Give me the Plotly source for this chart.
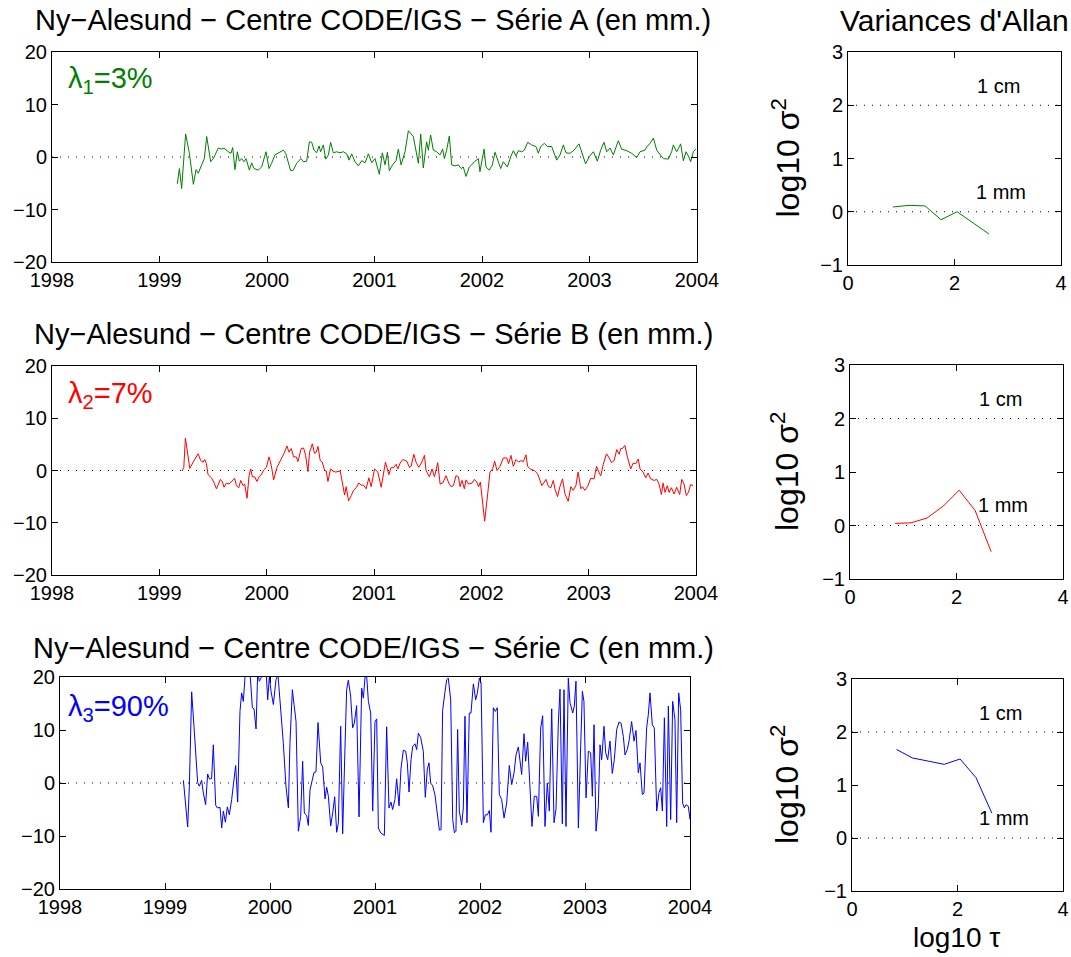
import plotly.graph_objects as go

# ---------------- data ----------------
A_time = [
    1999.166, 1999.185, 1999.206, 1999.243, 1999.278, 1999.315, 1999.340, 1999.361, 1999.392, 1999.417,
    1999.439, 1999.454, 1999.476, 1999.501, 1999.547, 1999.578, 1999.600, 1999.640, 1999.665, 1999.681,
    1999.702, 1999.724, 1999.743, 1999.764, 1999.786, 1999.805, 1999.836, 1999.857, 1999.879, 1999.919,
    1999.950, 1999.991, 2000.019, 2000.043, 2000.074, 2000.152, 2000.174, 2000.220, 2000.245, 2000.276,
    2000.316, 2000.338, 2000.369, 2000.394, 2000.416, 2000.437, 2000.462, 2000.484, 2000.499, 2000.524,
    2000.546, 2000.571, 2000.592, 2000.617, 2000.648, 2000.679, 2000.710, 2000.741, 2000.763, 2000.788,
    2000.819, 2000.850, 2000.881, 2000.912, 2000.943, 2000.974, 2001.005, 2001.045, 2001.073, 2001.098,
    2001.120, 2001.138, 2001.169, 2001.200, 2001.222, 2001.247, 2001.284, 2001.315, 2001.337, 2001.361,
    2001.408, 2001.430, 2001.454, 2001.485, 2001.501, 2001.522, 2001.547, 2001.578, 2001.609, 2001.634,
    2001.650, 2001.671, 2001.696,
    2001.718, 2001.749, 2001.780, 2001.805, 2001.826, 2001.851, 2001.882, 2001.904, 2001.929, 2001.966,
    2001.981, 2002.019, 2002.037, 2002.068, 2002.096, 2002.121, 2002.146, 2002.174, 2002.198, 2002.236,
    2002.270, 2002.292, 2002.316, 2002.338, 2002.369, 2002.394, 2002.425, 2002.462, 2002.502, 2002.524,
    2002.546, 2002.580, 2002.608, 2002.648, 2002.695, 2002.726, 2002.757, 2002.781, 2002.819, 2002.856,
    2002.902, 2002.936, 2002.964, 2002.999, 2003.036, 2003.073, 2003.104, 2003.135, 2003.160, 2003.191,
    2003.222, 2003.268, 2003.299, 2003.346, 2003.392, 2003.439, 2003.470, 2003.516, 2003.532, 2003.563,
    2003.594, 2003.625, 2003.656, 2003.687, 2003.733, 2003.764, 2003.780, 2003.811, 2003.848, 2003.873,
    2003.898, 2003.920, 2003.941, 2003.966, 2003.988,
]
A_mm = [
    -5.1, -2.2, -6.0, 4.4, 0.7, -5.2, -2.4, -3.1, -1.5, -0.3,
    3.9, 2.0, -0.9, -0.3, 1.7, 1.5, 1.7, 1.0, 0.7, 1.8,
    -2.4, 1.0, -0.8, -0.3, -0.9, -0.3, -2.5, -1.1, -2.2, -2.5,
    -1.9, 1.0, -2.2, -1.2, 0.4, 1.3, 0.7, -2.6, -2.5, -1.2,
    -0.3, -0.9, -0.8, 2.9, 2.8, 1.3, 0.8, 2.1, 1.0, 2.3,
    -0.4, 0.4, 2.8, 0.8, 1.0, 0.8, 1.0, 0.6, -0.6, 0.6,
    -0.9, -1.7, -0.7, -1.1, 0.6, -1.1, -0.3, -3.3, 0.8, -1.5,
    0.9, -2.6, -1.5, -0.7, 1.5, -1.5, 1.0, 5.0, 4.4, 3.9,
    -1.2, 4.4, -2.1, 2.9, 1.3, 4.2, 1.3, 1.0, 0.4, 1.5,
    -0.3, 1.3, 4.0,
    -1.5, -1.7, -1.5, -2.2, -1.9, -3.7, -1.9, -1.5, -0.9, -0.3,
    -2.8, 1.5, -1.9, -2.5, -1.5, 0.9, -0.6, -2.2, -0.9, -1.9,
    0.2, 1.2, 0.2, 1.2, 1.0, 1.3, 2.8, 2.3, 2.0, 0.7,
    2.0, 2.6, 2.0, 2.0, -0.6, 0.4, 2.3, 0.8, 0.7, 1.3,
    2.5, 0.4, -1.3, 0.1, 1.0, -0.8, 1.3, 2.8, 1.0, 1.7,
    0.4, 3.1, 1.5, 1.2, 0.7, -0.1, 1.0, 1.3, 1.9, 2.6,
    3.6, 1.3, 0.4, -0.3, -0.4, 1.0, 2.3, 1.0, 2.5, -0.7,
    1.0, 0.2, -0.9, 1.0, 1.5,
]

B_time = [
    1999.212, 1999.228, 1999.243, 1999.259, 1999.284, 1999.315, 1999.361, 1999.386, 1999.408, 1999.423,
    1999.439, 1999.454, 1999.485, 1999.507, 1999.532, 1999.569, 1999.588, 1999.603, 1999.625, 1999.650,
    1999.674, 1999.702, 1999.718, 1999.740, 1999.758, 1999.780, 1999.795, 1999.817, 1999.836, 1999.851,
    1999.867, 1999.888, 1999.910, 1999.929, 1999.950, 1999.972, 1999.997, 2000.022, 2000.043, 2000.065,
    2000.096, 2000.136, 2000.167, 2000.189, 2000.208, 2000.229, 2000.251, 2000.276, 2000.291, 2000.322,
    2000.344, 2000.363, 2000.384, 2000.400, 2000.425, 2000.446, 2000.462, 2000.478, 2000.499, 2000.518,
    2000.540, 2000.555, 2000.571, 2000.595, 2000.617, 2000.642, 2000.664, 2000.685, 2000.704, 2000.726,
    2000.741, 2000.763, 2000.788, 2000.809, 2000.834, 2000.859, 2000.881, 2000.902, 2000.927, 2000.952,
    2000.974, 2001.005, 2001.036, 2001.067, 2001.107, 2001.138, 2001.160, 2001.181, 2001.206, 2001.222,
    2001.243, 2001.268, 2001.305, 2001.330, 2001.346, 2001.371, 2001.392, 2001.417, 2001.445, 2001.470,
    2001.485, 2001.516, 2001.541, 2001.563, 2001.594, 2001.616, 2001.640, 2001.671,
    2001.696, 2001.718, 2001.740, 2001.764, 2001.786, 2001.802, 2001.820, 2001.842, 2001.857, 2001.882,
    2001.913, 2001.935, 2001.957, 2001.975, 2001.991, 2002.012, 2002.031, 2002.059, 2002.081, 2002.105,
    2002.124, 2002.146, 2002.174, 2002.205, 2002.236, 2002.254, 2002.276, 2002.298, 2002.323, 2002.347,
    2002.369, 2002.391, 2002.416, 2002.431, 2002.462, 2002.493, 2002.524, 2002.564, 2002.602, 2002.626,
    2002.648, 2002.670, 2002.688, 2002.710, 2002.732, 2002.757, 2002.778, 2002.809, 2002.834, 2002.856,
    2002.881, 2002.902, 2002.927, 2002.943, 2002.964, 2002.989, 2003.020, 2003.051, 2003.073, 2003.098,
    2003.113, 2003.135, 2003.166, 2003.191, 2003.213, 2003.237, 2003.262, 2003.284, 2003.299, 2003.315,
    2003.337, 2003.361, 2003.392, 2003.414, 2003.439, 2003.461, 2003.479, 2003.507, 2003.532, 2003.554,
    2003.578, 2003.609, 2003.634, 2003.656, 2003.678, 2003.693, 2003.712, 2003.733, 2003.749, 2003.771,
    2003.796, 2003.820, 2003.848, 2003.867, 2003.889, 2003.910, 2003.929, 2003.950, 2003.972,
]
B_mm = [
    -0.1, 0.6, 6.2, 3.5, 0.4, 1.6, 3.2, 1.9, 1.6, 2.1,
    1.3, -0.8, -1.4, -2.2, -3.5, -1.7, -2.2, -3.2, -2.4, -2.6,
    -2.1, -1.5, -2.9, -3.3, -1.9, -2.9, -2.6, -5.3, -1.0, 0.3,
    -1.2, -1.2, -2.1, -1.2, -0.8, 0.1, 0.6, 2.6, 1.0, -1.8,
    0.6, 2.2, 3.5, 4.7, 3.5, 4.2, 2.6, 2.6, 1.7, 4.2,
    4.3, 2.9, -0.2, 3.5, 5.1, 3.3, 3.5, 4.6, 1.9, 1.6,
    0.0, -0.1, -2.1, 0.3, -0.1, -0.3, -0.2, -0.1, -2.2, -4.7,
    -3.1, -5.8, -4.8, -3.8, -3.3, -2.4, -2.8, -2.8, -3.5, -1.4,
    -3.1, 0.3, -0.3, -3.2, 1.6, -0.8, 0.6, 0.5, 1.2, 0.3,
    1.4, 2.1, 1.8, 0.6, 0.8, 3.1, 1.6, 0.6, 1.6, 2.9,
    0.0, -1.2, 0.3, -1.2, 1.5, -2.6, -2.4, -1.0,
    -2.4, -3.1, -2.9, -1.0, -1.2, -3.1, -1.9, -3.5, -1.8, -2.6,
    -2.4, -1.7, -2.2, -3.1, -2.2, -5.8, -9.7, -4.5, -0.3, 0.3,
    1.8, 0.0, 0.8, 2.4, 2.4, 1.3, 2.9, 0.8, 2.1, 1.6,
    1.9, 1.7, 3.0, 0.8, 0.2, 0.0, -0.6, -2.9, -1.7, -3.1,
    -3.3, -1.9, -3.7, -5.0, -3.1, -1.6, -4.4, -5.9, -3.1, -3.8,
    -2.9, -0.3, -3.5, -3.1, -3.8, -3.1, -1.5, -1.6, 0.8, -0.5,
    -1.0, 1.1, 3.2, 2.4, 1.5, 1.9, 4.0, 3.1, 4.2, 4.2,
    4.8, 2.6, 0.3, 1.4, 1.3, 2.2, 0.3, -0.3, -1.4, -0.5,
    -1.6, -1.9, -1.7, -2.6, -4.6, -2.4, -4.2, -2.9, -4.2, -3.3,
    -4.5, -3.2, -4.6, -1.7, -2.6, -4.8, -4.2, -2.7, -2.9,
]

C_time = [
    1999.175, 1999.197, 1999.216, 1999.232, 1999.254, 1999.276, 1999.295, 1999.311, 1999.327, 1999.349,
    1999.365, 1999.387, 1999.406, 1999.422, 1999.444, 1999.460, 1999.483, 1999.498, 1999.524, 1999.540,
    1999.556, 1999.575, 1999.594, 1999.613, 1999.635, 1999.673, 1999.692, 1999.714, 1999.730, 1999.746,
    1999.762, 1999.778, 1999.810, 1999.832, 1999.848, 1999.867, 1999.883, 1999.898, 1999.914, 1999.930,
    1999.962, 1999.978, 1999.994, 2000.010, 2000.032, 2000.057, 2000.076, 2000.095, 2000.127, 2000.152,
    2000.175, 2000.190, 2000.213, 2000.229, 2000.248, 2000.270, 2000.292, 2000.311, 2000.327, 2000.349,
    2000.365, 2000.381, 2000.397, 2000.419, 2000.438, 2000.457, 2000.483, 2000.502, 2000.524, 2000.540,
    2000.556, 2000.578, 2000.597, 2000.616, 2000.635, 2000.651, 2000.673, 2000.692, 2000.714, 2000.730,
    2000.746, 2000.768, 2000.787, 2000.803, 2000.825, 2000.848, 2000.873, 2000.889, 2000.905, 2000.921,
    2000.937, 2000.959, 2000.978, 2001.000, 2001.016, 2001.032, 2001.054, 2001.089, 2001.111, 2001.133,
    2001.152, 2001.168, 2001.190, 2001.206, 2001.229, 2001.248, 2001.270, 2001.292, 2001.308, 2001.324,
    2001.343, 2001.359, 2001.381, 2001.397, 2001.413, 2001.435, 2001.460, 2001.479, 2001.498, 2001.514,
    2001.530, 2001.549, 2001.571, 2001.597, 2001.613, 2001.629, 2001.644, 2001.667, 2001.683, 2001.698,
    2001.721, 2001.740, 2001.756, 2001.771, 2001.787, 2001.803, 2001.825, 2001.841, 2001.857, 2001.876,
    2001.898, 2001.914, 2001.937, 2001.959, 2001.975, 2001.994, 2002.010, 2002.032, 2002.051, 2002.070,
    2002.089, 2002.105, 2002.127, 2002.146, 2002.165, 2002.184, 2002.206, 2002.229, 2002.254, 2002.279,
    2002.302, 2002.324, 2002.343, 2002.365, 2002.387, 2002.397, 2002.419, 2002.435, 2002.454, 2002.476,
    2002.495, 2002.517, 2002.540, 2002.556, 2002.578, 2002.597, 2002.619, 2002.641, 2002.660, 2002.683,
    2002.705, 2002.724, 2002.746, 2002.762, 2002.784, 2002.800, 2002.819, 2002.841, 2002.857, 2002.883,
    2002.898, 2002.914, 2002.937, 2002.959, 2002.975, 2002.990, 2003.010, 2003.032, 2003.054, 2003.070,
    2003.086, 2003.105, 2003.127, 2003.143, 2003.159, 2003.181, 2003.197, 2003.216, 2003.238, 2003.260,
    2003.279, 2003.302, 2003.324, 2003.343, 2003.365, 2003.381, 2003.403, 2003.422, 2003.444, 2003.467,
    2003.486, 2003.508, 2003.524, 2003.546, 2003.562, 2003.587, 2003.603, 2003.619, 2003.641, 2003.660,
    2003.683, 2003.705, 2003.721, 2003.737, 2003.756, 2003.778, 2003.794, 2003.816, 2003.835, 2003.857,
    2003.873, 2003.892, 2003.911, 2003.930, 2003.946, 2003.962, 2003.984, 2004.000,
]
C_mm = [
    0.5, -3.8, -8.3, -0.6, 17.2, 10.7, 4.4, 0.1, -0.6, 0.5,
    -1.9, -4.1, 1.7, 0.8, 0.8, 7.2, -4.2, -4.7, -4.6, -8.5,
    -5.3, -7.4, -4.5, -6.0, -3.1, 3.3, -3.6, 13.5, 17.0, 15.4,
    20.0, 21.4, 20.8, 14.2, 14.0, 10.2, 21.0, 19.2, 19.8, 20.8,
    21.4, 15.7, 20.1, 17.3, 14.8, 19.5, 20.4, 15.7, 7.5, -0.6,
    -4.7, 7.5, 17.6, 14.8, 11.6, -9.1, -6.3, 4.1, -5.7, -6.1,
    -8.0, -1.3, 0.0, 2.0, 2.1, 11.4, 3.8, 3.0, -3.0, -0.8,
    -2.5, -8.1, -5.7, -2.6, -9.3, -7.5, 10.7, -9.6, 6.6, 17.6,
    19.4, 16.4, 10.4, 11.3, 14.6, -6.4, 17.9, 16.0, 20.0, 20.1,
    15.4, 13.2, -5.3, 11.6, 12.1, -8.5, -9.4, -9.9, 10.6, -4.7,
    -3.6, -5.0, -3.1, 0.8, -4.3, 2.8, 6.2, 6.0, 3.8, -1.7,
    4.4, 6.9, 7.4, 6.3, 9.4, 8.6, 6.0, -2.7, 2.6, 3.8,
    0.0, -0.5, -2.2, -6.8, -8.9, -8.8, 13.7, 17.3, 19.5, 19.8,
    15.7, -6.9, -9.4, -9.1, 10.1, -5.3, -7.9, -4.7, 12.6, -7.5,
    13.2, 13.2, 18.7, 15.7, 17.0, 19.8, 18.9, -7.5, -6.0, -6.0,
    -5.2, -9.3, 14.2, 13.5, 14.2, -2.2, -3.1, -6.6, -3.8, 3.3,
    -0.3, 1.9, 5.3, 6.8, 3.1, 1.6, 9.3, 4.1, 7.7, -1.9,
    -8.2, -2.5, -2.5, -6.3, 10.4, 12.7, -8.2, 0.0, -5.3, 14.0,
    -7.5, -4.9, 11.3, 17.7, -7.7, 17.6, -8.2, 19.8, 15.2, 13.2,
    14.5, 19.2, -8.5, 7.0, 17.3, 15.4, -2.8, 6.0, 5.7, -2.5,
    11.0, -9.1, -4.4, 7.2, 4.4, 10.7, 5.7, 4.4, 7.9, 1.8,
    4.4, 10.1, 11.5, 11.3, 8.8, 5.3, 6.3, 8.2, 11.6, 7.9,
    9.9, 1.9, 3.8, -2.2, -1.9, 10.4, 12.9, 17.0, 11.0, 10.4,
    -5.3, -1.8, -0.9, -5.3, 12.3, -8.2, 14.5, -6.9, 15.4, 11.9,
    -7.5, 17.0, 13.8, -3.8, -4.7, -4.1, -4.4, -6.9,
]

# Allan variances (log10 tau, log10 sigma^2)
allan_log_tau = [0.845, 1.146, 1.447, 1.748, 2.049, 2.350, 2.651]
allan_A = [0.09, 0.12, 0.11, -0.15, 0.00, -0.21, -0.42]
allan_B = [0.04, 0.05, 0.14, 0.36, 0.66, 0.28, -0.49]
allan_C = [1.67, 1.51, 1.45, 1.39, 1.49, 1.14, 0.47]

year_ticks = [1998, 1999, 2000, 2001, 2002, 2003, 2004]
mm_ticks = [-20, -10, 0, 10, 20]
tau_ticks = [0, 2, 4]
sigma_ticks = [-1, 0, 1, 2, 3]

series_titles = [
    "Ny\u2212Alesund \u2212 Centre CODE/IGS \u2212 Série A (en mm.)",
    "Ny\u2212Alesund \u2212 Centre CODE/IGS \u2212 Série B (en mm.)",
    "Ny\u2212Alesund \u2212 Centre CODE/IGS \u2212 Série C (en mm.)",
]
lambda_labels = ["\u03bb<sub>1</sub>=3%", "\u03bb<sub>2</sub>=7%", "\u03bb<sub>3</sub>=90%"]
colors = ["#008000", "#ff0000", "#0000ff"]

# ---------------- layout geometry (pixels) ----------------
W, H = 1071, 957
FONT = "Liberation Sans, Arial, Helvetica, sans-serif"


def fx(p):
    return p / W


def fy(p):
    return 1 - p / H


left_boxes = [(52, 697, 52, 262), (52, 696, 366, 575), (60, 690, 677, 889)]
right_boxes = [(848, 1061, 52, 265), (850, 1063, 365, 579), (852, 1063, 679, 891)]
title_y = [20, 334, 648]
lambda_y = [80, 395, 708]

fig = go.Figure()

axis_common = dict(
    showline=True, linecolor="black", linewidth=1, mirror="ticks",
    ticks="inside", ticklen=6, tickcolor="black", tickwidth=1,
    showgrid=False, zeroline=False, automargin=False,
    tickfont=dict(family=FONT, size=20, color="black"),
)

times = [A_time, B_time, C_time]
vals = [A_mm, B_mm, C_mm]
allans = [allan_A, allan_B, allan_C]
layout_axes = {}
shapes = []
annotations = []

for i in range(3):
    nl = 2 * i + 1
    nr = 2 * i + 2
    xl = "x" if nl == 1 else f"x{nl}"
    yl = "y" if nl == 1 else f"y{nl}"
    xr = f"x{nr}"
    yr = f"y{nr}"

    fig.add_trace(go.Scatter(x=times[i], y=vals[i], xaxis=xl, yaxis=yl, mode="lines",
                             line=dict(color=colors[i], width=1), showlegend=False,
                             hoverinfo="skip"))
    fig.add_trace(go.Scatter(x=allan_log_tau, y=allans[i], xaxis=xr, yaxis=yr, mode="lines",
                             line=dict(color=colors[i], width=1), showlegend=False,
                             hoverinfo="skip"))

    L = left_boxes[i]
    R = right_boxes[i]
    kx = "xaxis" if nl == 1 else f"xaxis{nl}"
    ky = "yaxis" if nl == 1 else f"yaxis{nl}"
    layout_axes[kx] = dict(axis_common, domain=[fx(L[0]), fx(L[1])], range=[1998, 2004],
                           tickvals=year_ticks, tickformat="d", anchor=yl)
    layout_axes[ky] = dict(axis_common, domain=[fy(L[3]), fy(L[2])], range=[-20, 20],
                           tickvals=mm_ticks, anchor=xl)
    layout_axes[f"xaxis{nr}"] = dict(axis_common, domain=[fx(R[0]), fx(R[1])], range=[0, 4],
                                     tickvals=tau_ticks, anchor=yr)
    layout_axes[f"yaxis{nr}"] = dict(axis_common, domain=[fy(R[3]), fy(R[2])], range=[-1, 3],
                                     tickvals=sigma_ticks, anchor=xr)

    dot = dict(color="black", width=1, dash="1px,7px")
    shapes.append(dict(type="line", xref=f"{xl} domain", yref=yl, x0=0, x1=1, y0=0, y1=0,
                       line=dot, layer="below"))
    for lev in (0, 2):
        shapes.append(dict(type="line", xref=f"{xr} domain", yref=yr, x0=0, x1=1, y0=lev, y1=lev,
                           line=dot, layer="below"))

    annotations.append(dict(text=series_titles[i], x=fx(373), y=fy(title_y[i]), xref="paper",
                            yref="paper", xanchor="center", yanchor="middle", showarrow=False,
                            font=dict(family=FONT, size=29, color="black")))
    annotations.append(dict(text=lambda_labels[i], x=fx(66), y=fy(lambda_y[i]), xref="paper",
                            yref="paper", xanchor="left", yanchor="middle", showarrow=False,
                            font=dict(family=FONT, size=29, color=colors[i])))
    annotations.append(dict(text="1 cm", x=2.82, y=2.36, xref=xr, yref=yr, xanchor="center",
                            yanchor="middle", showarrow=False,
                            font=dict(family=FONT, size=20, color="black")))
    annotations.append(dict(text="1 mm", x=2.88, y=0.38, xref=xr, yref=yr, xanchor="center",
                            yanchor="middle", showarrow=False,
                            font=dict(family=FONT, size=20, color="black")))
    annotations.append(dict(text="log10 \u03c3<sup>2</sup>", x=fx(785), y=fy((R[2] + R[3]) / 2),
                            xref="paper", yref="paper", xanchor="center", yanchor="middle",
                            textangle=-90, showarrow=False,
                            font=dict(family=FONT, size=32, color="black")))

annotations.append(dict(text="Variances d'Allan", x=fx(954), y=fy(20), xref="paper", yref="paper",
                        xanchor="center", yanchor="middle", showarrow=False,
                        font=dict(family=FONT, size=30, color="black")))
annotations.append(dict(text="log10 \u03c4", x=fx(956), y=fy(937), xref="paper", yref="paper",
                        xanchor="center", yanchor="middle", showarrow=False,
                        font=dict(family=FONT, size=28, color="black")))

fig.update_layout(
    width=W, height=H, margin=dict(l=0, r=0, t=0, b=0, autoexpand=False),
    paper_bgcolor="white", plot_bgcolor="white",
    shapes=shapes, annotations=annotations, showlegend=False,
    **layout_axes,
)

fig.write_html(
    "out.html",
    config={"displayModeBar": False, "staticPlot": True},
    post_script="document.body.style.margin='0';document.body.style.padding='0';"
                "document.body.style.overflow='hidden';",
)
